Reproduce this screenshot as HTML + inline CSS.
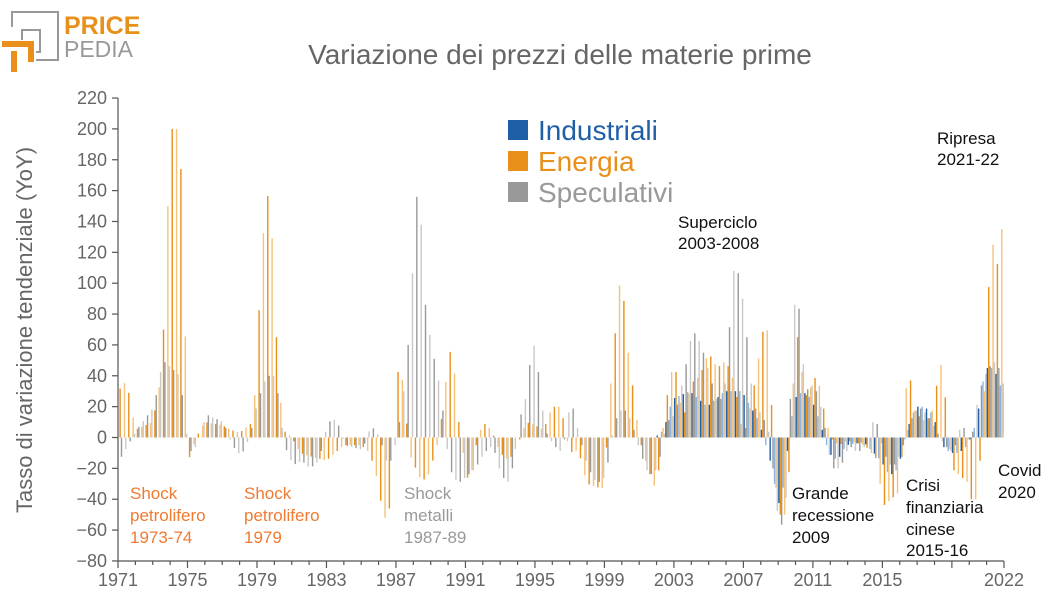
<!DOCTYPE html>
<html><head><meta charset="utf-8"><style>
body{margin:0;background:#fff;width:1054px;height:604px;overflow:hidden;font-family:"Liberation Sans",sans-serif}
</style></head><body>
<svg id="s" width="1054" height="604" xmlns="http://www.w3.org/2000/svg" font-family="Liberation Sans, sans-serif">
<g fill="none" stroke="#999" stroke-width="2">
<path d="M12 27 V12 H58 V60 H36"/>
<path d="M22 40 V30 H40 V52 H36"/>
</g>
<g fill="none" stroke="#e8901a" stroke-width="6">
<path d="M2 44 H31 V62"/>
<path d="M14 51 V72"/>
</g>
<text x="64" y="34" font-size="25" font-weight="bold" fill="#e8901a">PRICE</text>
<text x="64" y="57" font-size="23" fill="#999">PEDIA</text>
<text x="560" y="64" font-size="28" fill="#666" text-anchor="middle">Variazione dei prezzi delle materie prime</text>
<text transform="translate(32,330) rotate(-90)" font-size="22" fill="#666" text-anchor="middle">Tasso di variazione tendenziale (YoY)</text>
<g id="bars"></g>
<g id="axes" stroke="#555" stroke-width="1.2" fill="none"></g>
<g id="lab" font-size="18" fill="#666"></g>
<rect x="508" y="120" width="20" height="20" fill="#1f5fa8"/>
<rect x="508" y="151" width="20" height="20" fill="#e8901a"/>
<rect x="508" y="182" width="20" height="20" fill="#999"/>
<text x="538" y="140" font-size="28" fill="#1f5fa8">Industriali</text>
<text x="538" y="171" font-size="28" fill="#e8901a">Energia</text>
<text x="538" y="202" font-size="28" fill="#999">Speculativi</text>
<g font-size="17">
<text fill="#f07a30"><tspan x="130" y="499">Shock</tspan><tspan x="130" y="521">petrolifero</tspan><tspan x="130" y="543">1973-74</tspan></text>
<text fill="#f07a30"><tspan x="244" y="499">Shock</tspan><tspan x="244" y="521">petrolifero</tspan><tspan x="244" y="543">1979</tspan></text>
<text fill="#999"><tspan x="404" y="499">Shock</tspan><tspan x="404" y="521">metalli</tspan><tspan x="404" y="543">1987-89</tspan></text>
<text fill="#111"><tspan x="678" y="228">Superciclo</tspan><tspan x="678" y="249">2003-2008</tspan></text>
<text fill="#111"><tspan x="792" y="499">Grande</tspan><tspan x="792" y="521">recessione</tspan><tspan x="792" y="543">2009</tspan></text>
<text fill="#111"><tspan x="906" y="491">Crisi</tspan><tspan x="906" y="513">finanziaria</tspan><tspan x="906" y="535">cinese</tspan><tspan x="906" y="556">2015-16</tspan></text>
<text fill="#111"><tspan x="998" y="476">Covid</tspan><tspan x="998" y="498">2020</tspan></text>
<text fill="#111"><tspan x="937" y="144">Ripresa</tspan><tspan x="937" y="165">2021-22</tspan></text>
</g>
</svg>
<script>
var NS="http://www.w3.org/2000/svg";
function el(p,t,a,txt){var e=document.createElementNS(NS,t);for(var k in a)e.setAttribute(k,a[k]);if(txt!=null)e.textContent=txt;p.appendChild(e);return e;}
var x0=118,x1=1004,y0=437.5,k=1.543;
function X(yr){return x0+(yr-1971)*(x1-x0)/51;}
function Y(v){return y0-v*k;}
var ax=document.getElementById('axes'),lab=document.getElementById('lab');
el(ax,'line',{x1:x0,y1:98,x2:x0,y2:561});
el(ax,'line',{x1:x0,y1:561,x2:x1,y2:561});
for(var v=-80;v<=220;v+=20){var y=Y(v);el(ax,'line',{x1:x0-6,y1:y,x2:x0,y2:y});el(lab,'text',{x:x0-11,y:y+6,'text-anchor':'end'},v<0?'\u2212'+(-v):String(v));}
for(var yr=1971;yr<=2022;yr++){var x=X(yr);el(ax,'line',{x1:x,y1:561,x2:x,y2:(yr-1971)%4==0||yr==2022?568:565});}
[1971,1975,1979,1983,1987,1991,1995,1999,2003,2007,2011,2015,2022].forEach(function(yr){el(lab,'text',{x:X(yr),y:586,'text-anchor':'middle'},yr);});
var E=[1971,30,1971.5,37,1972,5,1973,10,1973.5,40,1973.75,100,1974,200,1974.25,200,1974.5,200,1974.75,148,1975,-17,1975.5,0,1976,10,1977,8,1977.5,5,1978,3,1978.75,10,1979,45,1979.25,120,1979.5,145,1979.75,168,1980,90,1980.25,40,1980.5,5,1981,0,1981.5,-10,1982,-12,1983,-15,1984,-5,1985,-5,1985.5,-10,1986,-30,1986.25,-52,1986.5,-52,1986.75,-40,1987,40,1987.25,45,1987.5,30,1987.75,-12,1988,-14,1988.25,-25,1988.75,-28,1989,-20,1989.5,0,1990,48,1990.25,63,1990.5,20,1991,-20,1991.25,-32,1991.5,-10,1992,10,1992.5,5,1993,-10,1993.5,-15,1994,-5,1994.5,10,1995,8,1995.5,5,1996,20,1996.5,20,1997,-10,1997.5,-8,1998,-30,1998.5,-32,1999,-33,1999.25,20,1999.5,50,1999.75,85,2000,112,2000.25,65,2000.5,45,2001,0,2001.5,-20,2002,-35,2002.5,20,2003,50,2003.25,35,2003.5,10,2004,35,2004.5,40,2005,55,2005.5,45,2006,50,2006.5,35,2007,0,2007.5,25,2008,60,2008.25,77,2008.5,62,2008.75,-20,2009,-45,2009.25,-55,2009.5,-45,2009.75,0,2010,70,2010.25,60,2010.5,25,2011,35,2011.25,42,2011.5,25,2012,0,2012.5,-5,2013,-2,2014,-5,2014.75,-15,2015,-45,2015.5,-40,2016,-35,2016.25,10,2016.5,54,2016.75,20,2017,15,2017.5,10,2018,20,2018.25,47,2018.5,47,2018.75,5,2019,-20,2019.5,-25,2020,-30,2020.25,-50,2020.5,-30,2020.75,0,2021,60,2021.25,135,2021.5,115,2021.75,110,2022,160,2022.25,115];
var S=[1971,-15,1971.5,-5,1972,5,1973,20,1973.5,50,1974,45,1974.5,40,1975,-10,1975.5,-5,1976,15,1977,10,1977.5,-5,1978,-12,1978.5,0,1979,25,1979.5,40,1980,40,1980.5,-5,1981,-18,1981.5,-15,1982,-20,1982.5,-15,1983,10,1983.5,12,1984,-5,1985,-8,1985.5,8,1986,0,1986.5,-20,1987,0,1987.5,40,1987.75,80,1988,133,1988.25,179,1988.5,97,1988.75,75,1989,58,1989.5,30,1990,-20,1990.5,-30,1991,-25,1991.5,-20,1992,-10,1992.5,-5,1993,-25,1993.5,-30,1994,10,1994.5,30,1994.75,64,1995,55,1995.25,30,1995.5,5,1996,-5,1996.5,-10,1997,25,1997.5,0,1998,-20,1998.5,-30,1999,-25,1999.5,10,2000,20,2000.5,10,2001,-10,2001.5,-25,2002,-20,2002.5,10,2003,15,2003.5,40,2004,70,2004.5,60,2005,40,2005.5,20,2006,40,2006.25,103,2006.5,113,2006.75,100,2007,80,2007.5,20,2008,15,2008.5,0,2008.75,-40,2009,-55,2009.25,-58,2009.5,-20,2009.75,70,2010,102,2010.25,65,2010.5,30,2011,35,2011.5,15,2012,-20,2012.5,-20,2013,-5,2013.5,-10,2014,-5,2014.5,15,2015,-10,2015.5,-20,2016,-10,2016.5,10,2017,20,2017.5,15,2018,5,2018.5,-5,2019,-10,2019.5,10,2020,-5,2020.5,30,2021,45,2021.5,50,2022,30,2022.25,30];
var I=[1971,0,2002,0,2002.5,5,2003,25,2004,30,2005,20,2006,30,2007,30,2007.5,20,2008,10,2008.75,-20,2009,-40,2009.25,-45,2009.5,-20,2010,25,2010.5,30,2011,25,2011.5,10,2012,-10,2012.5,-15,2013,-5,2014,-3,2015,-15,2015.5,-25,2016,-20,2016.5,5,2017,20,2017.5,20,2018,15,2018.5,-5,2019,-10,2019.5,-10,2020,-5,2020.5,10,2021,45,2021.5,45,2022,30,2022.25,30];
function interp(a,t){for(var i=0;i<a.length-2;i+=2){if(t>=a[i]&&t<=a[i+2]){var f=(t-a[i])/(a[i+2]-a[i]);return a[i+1]+f*(a[i+3]-a[i+1]);}}return a[a.length-1];}
var g=document.getElementById('bars');
var qw=(x1-x0)/204,bw=1.4;
var sets=[[I,'#1f5fa8','#8fb3dc',0],[E,'#e8901a','#f5c27a',1],[S,'#999','#c8c8c8',2]];
for(var q=0;q<204;q++){var t=1971+q/4;
sets.forEach(function(s){var v=interp(s[0],t+0.125);var x=x0+q*qw+s[3]*bw;var y=Y(v);
el(g,'rect',{x:x.toFixed(2),y:Math.min(y,y0).toFixed(2),width:bw,height:Math.abs(y-y0).toFixed(2),fill:q%2?s[2]:s[1]});});}
</script>
</body></html>
